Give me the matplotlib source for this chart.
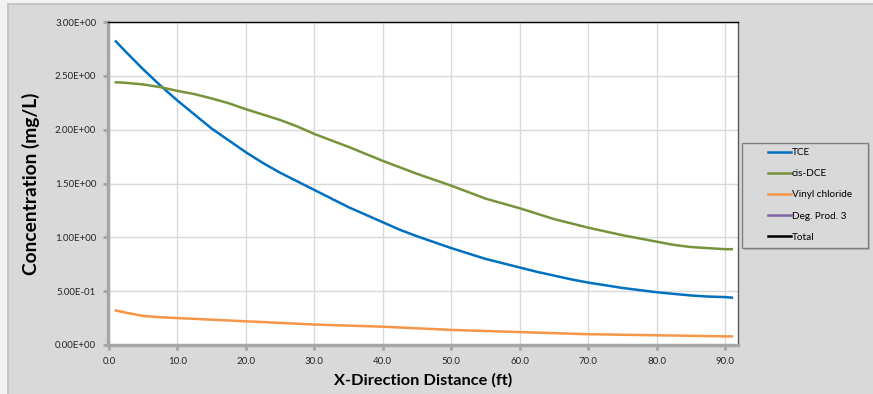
import matplotlib
matplotlib.use("Agg")
import matplotlib.pyplot as plt
from matplotlib.patches import Rectangle
from matplotlib.ticker import FuncFormatter, MultipleLocator

plt.rcParams['font.family'] = ['Lato', 'DejaVu Sans']

# Distance along the x direction (ft)
distance = [1, 2.5, 5, 7.5, 10, 12.5, 15, 17.5, 20, 22.5, 25, 27.5, 30, 32.5, 35, 37.5,
            40, 42.5, 45, 47.5, 50, 52.5, 55, 57.5, 60, 62.5, 65, 67.5, 70, 72.5, 75,
            77.5, 80, 82.5, 85, 87.5, 90, 91]

# Concentrations (mg/L)
tce = [2.82, 2.72, 2.56, 2.41, 2.27, 2.14, 2.01, 1.90, 1.79, 1.69, 1.60, 1.52, 1.44,
       1.36, 1.28, 1.21, 1.14, 1.07, 1.01, 0.955, 0.90, 0.85, 0.80, 0.76, 0.72, 0.68,
       0.645, 0.61, 0.58, 0.555, 0.53, 0.51, 0.49, 0.475, 0.46, 0.45, 0.445, 0.44]
cis_dce = [2.44, 2.435, 2.42, 2.395, 2.36, 2.33, 2.29, 2.245, 2.19, 2.14, 2.09, 2.03,
           1.96, 1.90, 1.84, 1.775, 1.71, 1.65, 1.59, 1.535, 1.48, 1.42, 1.36, 1.315,
           1.27, 1.22, 1.17, 1.13, 1.09, 1.055, 1.02, 0.99, 0.96, 0.93, 0.91, 0.90,
           0.89, 0.89]
vinyl_chloride = [0.32, 0.30, 0.27, 0.258, 0.25, 0.243, 0.235, 0.228, 0.22, 0.213,
                  0.205, 0.198, 0.19, 0.185, 0.18, 0.175, 0.17, 0.163, 0.155, 0.148,
                  0.14, 0.135, 0.13, 0.125, 0.12, 0.115, 0.11, 0.105, 0.10, 0.098,
                  0.095, 0.093, 0.09, 0.088, 0.085, 0.083, 0.08, 0.08]

series_names = ["TCE", "cis-DCE", "Vinyl chloride", "Deg. Prod. 3", "Total"]
series_colors = ["#0070c0", "#77933c", "#f79646", "#8064a2", "#000000"]

W, H = 873, 394
fig = plt.figure(figsize=(W / 100, H / 100), dpi=100)
fig.patch.set_facecolor("#f2f2f2")


def frect(x0, y0, x1, y1, **kw):
    """Rectangle in pixel coordinates measured from the top-left corner."""
    return Rectangle((x0 / W, 1 - y1 / H), (x1 - x0) / W, (y1 - y0) / H,
                     transform=fig.transFigure, **kw)


# chart panel
fig.patches.append(frect(8, 4, W + 2, H + 2, facecolor="#d9d9d9",
                         edgecolor="#bfbfbf", linewidth=1.2, zorder=-10))

ax = fig.add_axes([108 / W, 1 - 345 / H, (738 - 108) / W, (345 - 22) / H])
ax.set_facecolor("white")

lines = []
for name, vals, col in zip(series_names[:3], [tce, cis_dce, vinyl_chloride], series_colors[:3]):
    ln, = ax.plot(distance, vals, color=col, linewidth=1.8, label=name, zorder=3,
                  solid_joinstyle="round")
    lines.append(ln)
for name, col in zip(series_names[3:], series_colors[3:]):
    ln, = ax.plot([], [], color=col, linewidth=1.8, label=name)
    lines.append(ln)

ax.set_xlim(-0.15, 91.9)
ax.set_ylim(0, 3.0)
ax.xaxis.set_major_locator(MultipleLocator(10))
ax.yaxis.set_major_locator(MultipleLocator(0.5))
ax.xaxis.set_major_formatter(FuncFormatter(lambda v, p: f"{v:.1f}"))


def sci(v, p):
    s = f"{v:.2E}"
    mant, exp = s.split("E")
    return f"{mant}E{exp[0]}{int(exp[1:]):02d}"


ax.yaxis.set_major_formatter(FuncFormatter(sci))
ax.grid(True, color="#d9d9d9", linewidth=1.0, zorder=0)
ax.set_axisbelow(True)

for side in ("left", "bottom"):
    ax.spines[side].set_color("#a6a6a6")
    ax.spines[side].set_linewidth(2.5)
ax.spines["top"].set_color("#000000")
ax.spines["top"].set_linewidth(1.0)
ax.spines["right"].set_color("#595959")
ax.spines["right"].set_linewidth(1.0)

ax.tick_params(axis="both", which="major", direction="out", length=3.5, width=2,
               color="#a6a6a6", labelsize=7.0, labelcolor="#262626")
ax.tick_params(axis="y", pad=5)
ax.tick_params(axis="x", pad=5)

ax.set_xlabel("X-Direction Distance (ft)", fontsize=11.8, fontweight="bold",
              color="#000000", labelpad=5)
ax.set_ylabel("Concentration (mg/L)", fontsize=13.8, fontweight="bold",
              color="#000000", labelpad=11)

# legend box with a soft shadow
fig.patches.append(frect(744, 145, 870, 250, facecolor="#a6a6a6", edgecolor="none",
                         alpha=0.6, zorder=1))
fig.patches.append(frect(742, 143, 868, 248, facecolor="#d9d9d9", edgecolor="#7f7f7f",
                         linewidth=1.0, zorder=2))

leg = fig.legend(handles=lines, labels=series_names, loc="upper left",
                 bbox_to_anchor=(768 / W, 1 - 148 / H), bbox_transform=fig.transFigure,
                 fontsize=7.2, frameon=False, handlelength=2.3, handletextpad=0.05,
                 labelspacing=1.22, borderpad=0, borderaxespad=0)
leg.set_zorder(5)
for h in leg.legend_handles:
    h.set_linewidth(1.8)

fig.savefig("out.png", dpi=100, facecolor=fig.get_facecolor())
